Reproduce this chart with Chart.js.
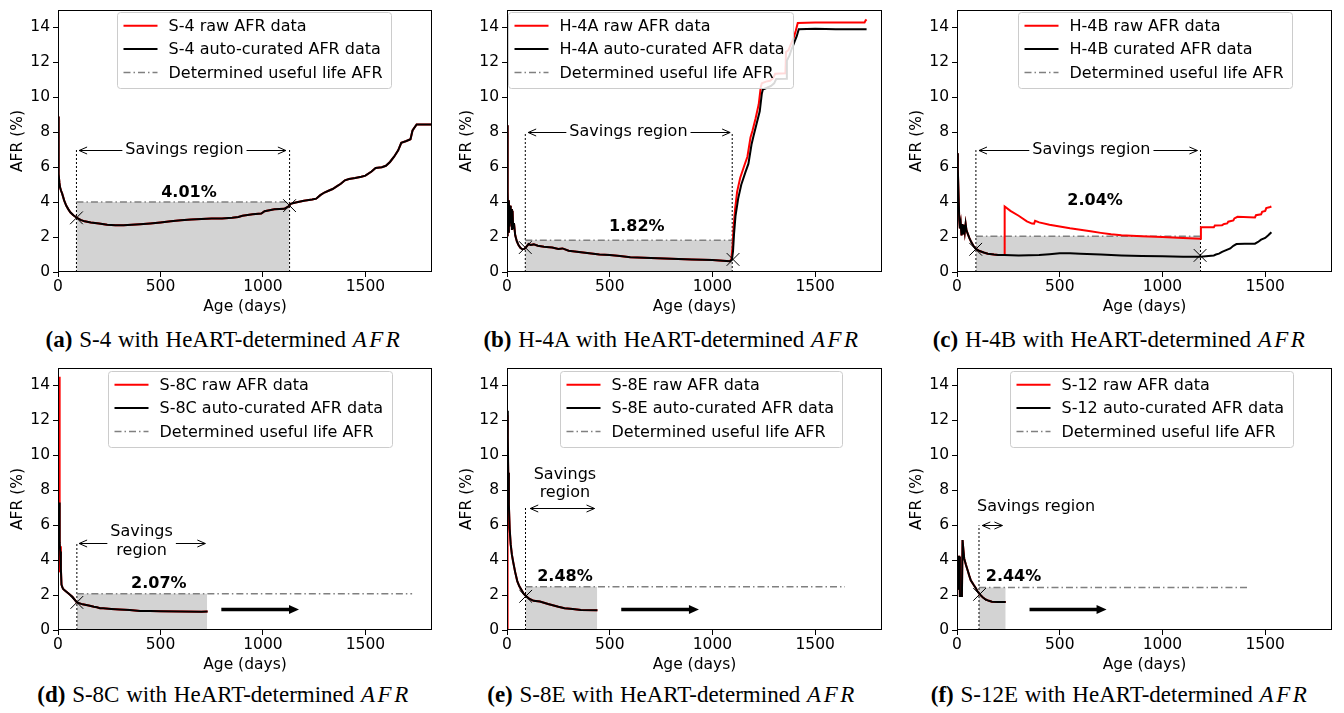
<!DOCTYPE html>
<html><head><meta charset="utf-8">
<script src="https://cdn.jsdelivr.net/npm/chart.js@4.4.1/dist/chart.umd.min.js"></script>
<style>
html,body{margin:0;padding:0;background:#fff;width:1344px;height:713px;overflow:hidden;position:relative}
canvas{position:absolute}
.cap{position:absolute;width:448px;text-align:center;font-family:'Liberation Serif','Times New Roman',serif;font-size:23px;line-height:26px;color:#000;white-space:nowrap;word-spacing:1px}
.cap i{letter-spacing:2.5px}
</style></head><body>
<script>
// ---------------- DATA ----------------
const xTickVals = [0, 500, 1000, 1500];
const yTickVals = [0, 2, 4, 6, 8, 10, 12, 14];
const panelLetters = ['a','b','c','d','e','f'];
const driveNames = ['S-4','H-4A','H-4B','S-8C','S-8E','S-12'];
const captionNames = ['S-4','H-4A','H-4B','S-8C','S-8E','S-12E'];
const curatedWord = ['auto-curated','auto-curated','curated','auto-curated','auto-curated','auto-curated'];

// [age (days), AFR (%)]
const s4Raw = [[0,8.9],[2,6.8],[4,5.6],[7,5.1],[10,4.85],[15,4.65],[20,4.5],[30,4.1],[40,3.8],[50,3.6],[60,3.42],[75,3.25],[90,3.12],[110,2.98],[130,2.9],[160,2.84],[200,2.78],[240,2.7],[280,2.68],[320,2.68],[360,2.7],[400,2.73],[450,2.78],[500,2.84],[550,2.9],[600,2.96],[650,3.0],[700,3.04],[750,3.06],[800,3.06],[850,3.1],[880,3.15],[900,3.22],[950,3.3],[992,3.35],[1008,3.48],[1056,3.59],[1104,3.62],[1125,3.75],[1135,3.9],[1160,3.98],[1200,4.08],[1240,4.15],[1260,4.2],[1280,4.4],[1300,4.55],[1320,4.65],[1340,4.75],[1360,4.9],[1380,5.05],[1400,5.25],[1420,5.32],[1450,5.38],[1480,5.45],[1500,5.52],[1530,5.75],[1550,5.95],[1580,6.0],[1600,6.08],[1620,6.3],[1640,6.6],[1660,6.97],[1675,7.4],[1700,7.5],[1720,7.6],[1730,8.1],[1750,8.45],[1825,8.45]];
const s4Cur = [[0,8.9],[2,6.8],[4,5.6],[7,5.1],[10,4.85],[15,4.65],[20,4.5],[30,4.1],[40,3.8],[50,3.6],[60,3.42],[75,3.25],[90,3.12],[110,2.98],[130,2.9],[160,2.84],[200,2.78],[240,2.7],[280,2.68],[320,2.68],[360,2.7],[400,2.73],[450,2.78],[500,2.84],[550,2.9],[600,2.96],[650,3.0],[700,3.04],[750,3.06],[800,3.06],[850,3.1],[880,3.15],[900,3.22],[950,3.3],[992,3.35],[1008,3.48],[1056,3.59],[1104,3.62],[1125,3.75],[1135,3.9],[1160,3.98],[1200,4.08],[1240,4.15],[1260,4.2],[1280,4.4],[1300,4.55],[1320,4.65],[1340,4.75],[1360,4.9],[1380,5.05],[1400,5.25],[1420,5.32],[1450,5.38],[1480,5.45],[1500,5.52],[1530,5.75],[1550,5.95],[1580,6.0],[1600,6.08],[1620,6.3],[1640,6.6],[1660,6.97],[1675,7.4],[1700,7.5],[1720,7.6],[1730,8.1],[1750,8.45],[1825,8.45]];

const h4aRaw = [[0,2.1],[2,8.4],[4,4.6],[6,2.3],[9,4.1],[12,2.6],[15,3.8],[18,2.8],[21,3.6],[24,2.4],[27,3.5],[30,2.5],[34,2.8],[40,2.1],[48,1.75],[56,1.55],[65,1.38],[75,1.3],[85,1.32],[95,1.45],[105,1.6],[115,1.55],[130,1.58],[150,1.5],[180,1.45],[220,1.4],[250,1.32],[270,1.35],[300,1.22],[350,1.15],[400,1.08],[450,1.0],[500,0.97],[550,0.92],[600,0.85],[700,0.8],[800,0.76],[900,0.72],[1000,0.68],[1050,0.65],[1085,0.62],[1092,0.75],[1098,1.5],[1103,2.6],[1110,3.6],[1120,4.6],[1135,5.4],[1155,6.1],[1170,6.6],[1185,7.7],[1195,8.1],[1210,8.8],[1225,9.6],[1235,10.6],[1240,10.8],[1260,10.9],[1280,10.95],[1295,11.1],[1305,11.35],[1355,11.38],[1358,12.6],[1370,12.7],[1380,13.0],[1395,13.4],[1405,13.8],[1415,14.25],[1500,14.28],[1600,14.28],[1740,14.28],[1745,14.4],[1750,14.45]];
const h4aCur = [[0,2.1],[2,8.4],[4,4.6],[6,2.3],[9,4.1],[12,2.6],[15,3.8],[18,2.8],[21,3.6],[24,2.4],[27,3.5],[30,2.5],[34,2.8],[40,2.1],[48,1.75],[56,1.55],[65,1.38],[75,1.3],[85,1.32],[95,1.45],[105,1.6],[115,1.55],[130,1.58],[150,1.5],[180,1.45],[220,1.4],[250,1.32],[270,1.35],[300,1.22],[350,1.15],[400,1.08],[450,1.0],[500,0.97],[550,0.92],[600,0.85],[700,0.8],[800,0.76],[900,0.72],[1000,0.68],[1050,0.65],[1085,0.62],[1095,0.72],[1100,1.2],[1105,2.2],[1112,3.2],[1125,4.2],[1140,5.0],[1160,5.7],[1175,6.2],[1190,7.3],[1200,7.8],[1215,8.5],[1230,9.2],[1240,10.2],[1245,10.45],[1265,10.55],[1285,10.65],[1300,10.8],[1310,11.05],[1358,11.06],[1362,12.1],[1375,12.4],[1385,12.75],[1400,13.2],[1410,13.5],[1420,13.9],[1500,13.92],[1600,13.9],[1750,13.9]];

const h4bRaw = [[0,6.8],[4,5.9],[8,4.2],[11,3.0],[14,2.5],[18,2.8],[22,2.1],[26,2.75],[30,2.2],[34,2.7],[38,2.3],[42,2.75],[46,2.4],[52,2.2],[60,1.95],[70,1.7],[80,1.5],[92,1.32],[110,1.2],[130,1.12],[150,1.05],[180,1.0],[200,0.98],[230,0.98],[232,3.75],[260,3.5],[300,3.22],[340,2.9],[365,2.77],[375,2.76],[380,2.93],[400,2.84],[450,2.7],[500,2.6],[550,2.5],[600,2.42],[650,2.33],[700,2.24],[750,2.16],[800,2.1],[900,2.04],[1000,2.0],[1100,1.95],[1185,1.9],[1187,2.56],[1250,2.56],[1255,2.66],[1290,2.68],[1300,2.75],[1315,2.78],[1320,2.88],[1345,2.95],[1350,3.07],[1365,3.16],[1450,3.12],[1455,3.25],[1480,3.3],[1485,3.44],[1500,3.5],[1505,3.66],[1524,3.72],[1530,3.75]];
const h4bCur = [[0,6.8],[4,5.9],[8,4.2],[11,3.0],[14,2.5],[18,2.8],[22,2.1],[26,2.75],[30,2.2],[34,2.7],[38,2.3],[42,2.75],[46,2.4],[52,2.2],[60,1.95],[70,1.7],[80,1.5],[92,1.32],[110,1.2],[130,1.12],[150,1.05],[180,1.0],[200,0.98],[230,0.97],[300,0.95],[400,0.97],[450,1.02],[500,1.07],[550,1.08],[600,1.05],[700,1.0],[800,0.95],[900,0.92],[1000,0.9],[1100,0.88],[1185,0.88],[1250,0.95],[1260,1.0],[1275,1.05],[1290,1.15],[1310,1.25],[1330,1.35],[1345,1.5],[1360,1.6],[1400,1.62],[1450,1.62],[1465,1.72],[1480,1.85],[1500,1.95],[1515,2.1],[1530,2.28]];

const s8cRaw = [[5,14.5],[8,3.3],[11,4.8],[14,3.6],[17,2.6],[21,2.45],[25,2.35],[35,2.25],[50,2.1],[70,1.9],[92,1.58],[120,1.47],[150,1.4],[175,1.33],[190,1.3],[205,1.25],[220,1.24],[260,1.2],[300,1.17],[350,1.14],[400,1.09],[450,1.09],[500,1.08],[600,1.06],[700,1.05],[730,1.06]];
const s8cCur = [[5,7.3],[8,5.0],[11,4.5],[14,3.5],[17,2.6],[21,2.45],[25,2.35],[35,2.25],[50,2.1],[70,1.9],[92,1.58],[120,1.47],[150,1.4],[175,1.33],[190,1.3],[205,1.25],[220,1.24],[260,1.2],[300,1.17],[350,1.14],[400,1.09],[450,1.09],[500,1.08],[600,1.06],[700,1.05],[730,1.06]];

const s8eRaw = [[0,0],[2,12.3],[4,10.8],[6,9],[9,7.2],[13,5.8],[18,4.9],[24,4.3],[30,3.9],[40,3.3],[50,2.8],[60,2.5],[70,2.3],[80,2.1],[92,1.95],[110,1.78],[130,1.67],[160,1.63],[200,1.49],[250,1.33],[280,1.25],[320,1.2],[360,1.15],[440,1.13]];
const s8eCur = [[2,12.55],[4,11],[6,9],[9,7.2],[13,5.8],[18,4.9],[24,4.3],[30,3.9],[40,3.3],[50,2.8],[60,2.5],[70,2.3],[80,2.1],[92,1.95],[110,1.78],[130,1.67],[160,1.63],[200,1.49],[250,1.33],[280,1.25],[320,1.2],[360,1.15],[440,1.13]];

const s12Raw = [[4,2.3],[6,4.2],[11,4.2],[14,1.95],[20,1.95],[24,2.0],[27,5.15],[31,4.6],[35,4.1],[43,3.75],[51,3.45],[60,3.1],[67,2.85],[80,2.6],[91,2.4],[100,2.22],[110,2.05],[125,1.88],[139,1.75],[155,1.67],[170,1.62],[200,1.6],[237,1.6]];
const s12Cur = [[4,2.3],[6,4.2],[11,4.2],[14,1.95],[20,1.95],[24,2.0],[27,5.15],[31,4.6],[35,4.1],[43,3.75],[51,3.45],[60,3.1],[67,2.85],[80,2.6],[91,2.4],[100,2.22],[110,2.05],[125,1.88],[139,1.75],[155,1.67],[170,1.62],[200,1.6],[237,1.6]];

const rawSeries = [s4Raw, h4aRaw, h4bRaw, s8cRaw, s8eRaw, s12Raw];
const curSeries = [s4Cur, h4aCur, h4bCur, s8cCur, s8eCur, s12Cur];

const usefulAFR  = [4.01, 1.82, 2.04, 2.07, 2.48, 2.44];
const savStart   = [90, 89, 92, 92, 90, 107];
const savEnd     = [1130, 1096, 1185, 728, 439, 237];
const dashEnd    = [1130, 1096, 1185, 1728, 1645, 1425];
const endLines   = [true, true, true, false, false, false];
const markerPts  = [[[90,3.1],[1130,3.8]], [[89,1.4],[1100,0.72]], [[91,1.3],[1183,0.95]], [[92,1.58]], [[91,1.93]], [[110,2.04]]];
const arrowY     = [7, 8, 7, 5, 7, 6];
const arrowFrom  = [103, 103, 107, 103, 113, 123];
const arrowTo    = [1112, 1086, 1170, 719, 426, 221];
const savLines   = [['Savings region'], ['Savings region'], ['Savings region'], ['Savings','region'], ['Savings','region'], ['Savings region']];
const savLabelX  = [617, 591, 654, 408, 282, 385];
const savLabelY  = [7, 8, 7, 5.07, 8.37, 7.03];
const savBreak   = [true, true, true, true, false, false];
const pctX       = [639, 632, 672, 492, 282, 275];
const pctY       = [4.55, 2.6, 4.05, 2.64, 3.07, 3.03];
const bigFrom    = [null, null, null, 797, 556, 353];
const bigTo      = [null, null, null, 1176, 934, 728];
const bigY       = [null, null, null, 1.17, 1.17, 1.17];

// ---------------- LAYOUT / STYLE ----------------
const FONT = "'DejaVu Sans', sans-serif";
const boxes = [
  {L:58, T:3, R:436, B:272}, {L:507, T:3, R:886, B:272}, {L:957, T:3, R:1336, B:272},
  {L:58, T:361, R:436, B:630}, {L:507, T:361, R:886, B:630}, {L:957, T:361, R:1336, B:630}
];
const legendPos = [[59,2],[1,2],[61,2],[50,3],[53,3],[53,3]];
const YW = 53, XH = 48, PT = 3, PR = 6;
const TXT = 16, TICK = 15.5;

function pts(arr){ return arr.map(([x,y]) => ({x, y})); }

const decor = {
  id: 'decor',
  afterDatasetsDraw(chart, args, o) {
    const i = o.idx;
    const {ctx, scales:{x, y}} = chart;
    ctx.save();
    ctx.fillStyle = '#000'; ctx.strokeStyle = '#000'; ctx.lineWidth = 1;
    ctx.font = `${TXT}px ${FONT}`;
    ctx.textAlign = 'center'; ctx.textBaseline = 'middle';
    const lines = savLines[i];
    const lh = 18.5;
    const cx = x.getPixelForValue(savLabelX[i]);
    const cy = y.getPixelForValue(savLabelY[i]);
    lines.forEach((t, k) => ctx.fillText(t, cx, cy + (k - (lines.length - 1) / 2) * lh));
    const tw = Math.max(...lines.map(t => ctx.measureText(t).width));
    const ay = Math.round(y.getPixelForValue(arrowY[i])) + 0.5;
    const x0 = x.getPixelForValue(arrowFrom[i]), x1 = x.getPixelForValue(arrowTo[i]);
    const seg = (a, b) => { ctx.beginPath(); ctx.moveTo(a, ay); ctx.lineTo(b, ay); ctx.stroke(); };
    if (savBreak[i]) { seg(x0, cx - tw / 2 - 3); seg(cx + tw / 2 + 3, x1); } else { seg(x0, x1); }
    const head = (px, dir) => {
      ctx.beginPath();
      ctx.moveTo(px - dir * 8, ay - 3.5); ctx.lineTo(px, ay); ctx.lineTo(px - dir * 8, ay + 3.5);
      ctx.stroke();
    };
    head(x0, -1); head(x1, 1);
    ctx.font = `bold ${TXT}px ${FONT}`;
    ctx.fillText(usefulAFR[i].toFixed(2) + '%', x.getPixelForValue(pctX[i]), y.getPixelForValue(pctY[i]));
    if (bigFrom[i] !== null) {
      const bx0 = x.getPixelForValue(bigFrom[i]), bx1 = x.getPixelForValue(bigTo[i]);
      const by = y.getPixelForValue(bigY[i]);
      ctx.lineWidth = 3.5;
      ctx.beginPath(); ctx.moveTo(bx0, by); ctx.lineTo(bx1 - 9, by); ctx.stroke();
      ctx.beginPath(); ctx.moveTo(bx1, by); ctx.lineTo(bx1 - 10, by - 4.5); ctx.lineTo(bx1 - 10, by + 4.5); ctx.closePath(); ctx.fill();
    }
    ctx.restore();
  },
  afterDraw(chart, args, o) {
    const i = o.idx;
    const {ctx, chartArea: a} = chart;
    ctx.save();
    ctx.strokeStyle = '#000'; ctx.lineWidth = 1;
    ctx.strokeRect(Math.round(a.left) + 0.5, Math.round(a.top) + 0.5, Math.round(a.right - a.left) - 1, Math.round(a.bottom - a.top) - 1);
    ctx.font = `${TXT}px ${FONT}`;
    const labels = [`${driveNames[i]} raw AFR data`, `${driveNames[i]} ${curatedWord[i]} AFR data`, 'Determined useful life AFR'];
    const tw = Math.max(...labels.map(t => ctx.measureText(t).width));
    const bx = Math.round(a.left + legendPos[i][0]) + 0.5, by = Math.round(a.top + legendPos[i][1]) + 0.5;
    const bw = Math.round(51 + tw + 9), bh = 76;
    ctx.beginPath();
    if (ctx.roundRect) ctx.roundRect(bx, by, bw, bh, 3); else ctx.rect(bx, by, bw, bh);
    ctx.fillStyle = 'rgba(255,255,255,0.85)'; ctx.fill();
    ctx.strokeStyle = '#cccccc'; ctx.stroke();
    const styles = [{c:'#ff0000', w:2, d:[]}, {c:'#000000', w:2, d:[]}, {c:'#808080', w:1.5, d:[7,3,1.5,3]}];
    ctx.textAlign = 'left'; ctx.textBaseline = 'middle'; ctx.fillStyle = '#000';
    labels.forEach((t, k) => {
      const ry = by + 13.3 + k * 23.3;
      ctx.beginPath(); ctx.strokeStyle = styles[k].c; ctx.lineWidth = styles[k].w; ctx.setLineDash(styles[k].d);
      ctx.moveTo(bx + 6, ry); ctx.lineTo(bx + 40, ry); ctx.stroke();
      ctx.setLineDash([]);
      ctx.fillText(t, bx + 51, ry + 1);
    });
    ctx.restore();
  }
};

function makePanel(i) {
  const b = boxes[i];
  const W = (b.R - b.L) + YW + PR;
  const H = (b.B - b.T) + PT + XH;
  const cv = document.createElement('canvas');
  cv.width = W; cv.height = H;
  cv.style.left = (b.L - YW) + 'px'; cv.style.top = (b.T - PT) + 'px';
  cv.style.width = W + 'px'; cv.style.height = H + 'px';
  document.body.appendChild(cv);

  const base = {pointRadius: 0, tension: 0, fill: false};
  const datasets = [
    Object.assign({}, base, {label:'fill', data: pts([[savStart[i], usefulAFR[i]], [savEnd[i], usefulAFR[i]]]), fill: 'origin', backgroundColor: '#d3d3d3', borderWidth: 0, order: 7}),
    Object.assign({}, base, {label:'v0', data: pts([[savStart[i], 0], [savStart[i], arrowY[i]]]), borderColor: '#000', borderWidth: 1, borderDash: [2, 2], order: 6}),
    Object.assign({}, base, {label:'dash', data: pts([[savStart[i], usefulAFR[i]], [dashEnd[i], usefulAFR[i]]]), borderColor: '#808080', borderWidth: 1.5, borderDash: [7, 3, 1.5, 3], order: 4}),
    Object.assign({}, base, {label:'raw', data: pts(rawSeries[i]), borderColor: '#ff0000', borderWidth: 2, order: 3}),
    Object.assign({}, base, {label:'cur', data: pts(curSeries[i]), borderColor: '#000000', borderWidth: 2, order: 2}),
    Object.assign({}, base, {label:'mk', data: pts(markerPts[i]), showLine: false, pointRadius: 9, pointStyle: 'crossRot', pointBorderColor: '#000', pointBorderWidth: 1, pointBackgroundColor: '#000', order: 1})
  ];
  if (endLines[i]) {
    datasets.push(Object.assign({}, base, {label:'v1', data: pts([[savEnd[i], 0], [savEnd[i], arrowY[i]]]), borderColor: '#000', borderWidth: 1, borderDash: [2, 2], order: 5}));
  }
  const tickFont = {family: FONT, size: TICK};
  new Chart(cv, {
    type: 'line',
    data: {datasets},
    options: {
      responsive: false, animation: false, events: [],
      layout: {padding: {top: PT, right: PR, left: 0, bottom: 0}},
      plugins: {legend: {display: false}, tooltip: {enabled: false}, decor: {idx: i}},
      scales: {
        x: {
          type: 'linear', min: 0, max: 1825,
          afterBuildTicks: s => { s.ticks = xTickVals.map(v => ({value: v})); },
          afterFit: s => { s.height = XH; s.paddingLeft = 0; s.paddingRight = 0; },
          ticks: {font: tickFont, color: '#000', padding: 1, maxRotation: 0, autoSkip: false, callback: v => String(v)},
          grid: {display: true, drawOnChartArea: false, tickLength: 5, color: '#000', tickColor: '#000'},
          border: {display: false},
          title: {display: true, text: 'Age (days)', font: tickFont, color: '#000', padding: {top: 4, bottom: 4}}
        },
        y: {
          type: 'linear', min: 0, max: 15,
          afterBuildTicks: s => { s.ticks = yTickVals.map(v => ({value: v})); },
          afterFit: s => { s.width = YW; s.paddingTop = 0; s.paddingBottom = 0; },
          ticks: {font: tickFont, color: '#000', padding: 3, callback: v => String(v)},
          grid: {display: true, drawOnChartArea: false, tickLength: 5, color: '#000', tickColor: '#000'},
          border: {display: false},
          title: {display: true, text: 'AFR (%)', font: tickFont, color: '#000', padding: {top: 4, bottom: 4}}
        }
      }
    },
    plugins: [decor]
  });

  const cap = document.createElement('div');
  cap.className = 'cap';
  cap.style.left = ((i % 3) * 448) + 'px';
  cap.style.top = (i < 3 ? 327 : 682) + 'px';
  cap.innerHTML = `<b>(${panelLetters[i]})</b> ${captionNames[i]} with HeART-determined <i>AFR</i>`;
  document.body.appendChild(cap);
}

for (let i = 0; i < 6; i++) makePanel(i);
</script>
</body></html>
